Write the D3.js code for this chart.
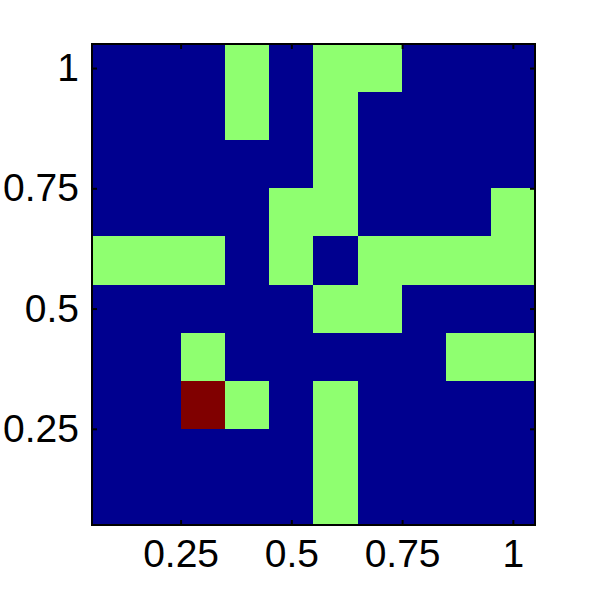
<!DOCTYPE html>
<html>
<head>
<meta charset="utf-8">
<script src="https://cdn.jsdelivr.net/npm/d3@7"></script>
<style>
  body { margin: 0; background: #fff; }
  text { font-family: "Liberation Sans", Arial, sans-serif; }
</style>
</head>
<body>
<div id="chart"></div>
<script>
// cell centres along each axis
var xValues = [0.1, 0.2, 0.3, 0.4, 0.5, 0.6, 0.7, 0.8, 0.9, 1.0]
var yValues = [1.0, 0.9, 0.8, 0.7, 0.6, 0.5, 0.4, 0.3, 0.2, 0.1]

// grid values, one row per y value (top row first): 0 = low, 1 = mid, 2 = high
var gridRows = [
  [0, 0, 0, 1, 0, 1, 1, 0, 0, 0],
  [0, 0, 0, 1, 0, 1, 0, 0, 0, 0],
  [0, 0, 0, 0, 0, 1, 0, 0, 0, 0],
  [0, 0, 0, 0, 1, 1, 0, 0, 0, 1],
  [1, 1, 1, 0, 1, 0, 1, 1, 1, 1],
  [0, 0, 0, 0, 0, 1, 1, 0, 0, 0],
  [0, 0, 1, 0, 0, 0, 0, 0, 1, 1],
  [0, 0, 2, 1, 0, 1, 0, 0, 0, 0],
  [0, 0, 0, 0, 0, 1, 0, 0, 0, 0],
  [0, 0, 0, 0, 0, 1, 0, 0, 0, 0]
]

var tickValues = [0.25, 0.5, 0.75, 1]
var colorLevels = [0, 1, 2]
var colorRange = ["#00008f", "#8fff70", "#800000"]

var width = 591, height = 591
var margin = { top: 44, right: 56, bottom: 66, left: 92 }
var innerW = width - margin.left - margin.right
var innerH = height - margin.top - margin.bottom

var svg = d3.select("#chart").append("svg")
  .attr("width", width)
  .attr("height", height)

var g = svg.append("g")
  .attr("transform", "translate(" + margin.left + "," + margin.top + ")")

var x = d3.scaleLinear().domain([0.05, 1.05]).range([0, innerW])
var y = d3.scaleLinear().domain([0.05, 1.05]).range([innerH, 0])
var color = d3.scaleOrdinal().domain(colorLevels).range(colorRange)

var cells = []
gridRows.forEach(function(row, r) {
  row.forEach(function(v, c) {
    cells.push({ x: xValues[c], y: yValues[r], v: v })
  })
})

// snap cell edges to whole pixels so neighbours meet without seams
g.selectAll("rect.cell")
  .data(cells)
  .enter().append("rect")
    .attr("class", "cell")
    .attr("shape-rendering", "crispEdges")
    .attr("x", function(d) { return Math.round(x(d.x - 0.05)) })
    .attr("y", function(d) { return Math.round(y(d.y + 0.05)) })
    .attr("width", function(d) { return Math.round(x(d.x + 0.05)) - Math.round(x(d.x - 0.05)) })
    .attr("height", function(d) { return Math.round(y(d.y - 0.05)) - Math.round(y(d.y + 0.05)) })
    .attr("fill", function(d) { return color(d.v) })

// axes: ticks pointing inward, labels outside
function styleAxis(sel) {
  sel.select(".domain").remove()
  sel.selectAll(".tick line").attr("stroke", "#000").attr("stroke-width", 2)
  sel.selectAll(".tick text")
    .attr("fill", "#000")
    .style("font-size", "39px")
}

g.append("g")
  .attr("transform", "translate(0," + innerH + ")")
  .call(d3.axisBottom(x).tickValues(tickValues).tickFormat(d3.format("")).tickSizeInner(-5).tickSizeOuter(0).tickPadding(14))
  .call(styleAxis)
  .selectAll(".tick text").attr("dy", "0.71em")

g.append("g")
  .call(d3.axisTop(x).tickValues(tickValues).tickFormat("").tickSizeInner(-5).tickSizeOuter(0))
  .call(styleAxis)

g.append("g")
  .call(d3.axisLeft(y).tickValues(tickValues).tickFormat(d3.format("")).tickSizeInner(-5).tickSizeOuter(0).tickPadding(13))
  .call(styleAxis)

g.append("g")
  .attr("transform", "translate(" + innerW + ",0)")
  .call(d3.axisRight(y).tickValues(tickValues).tickFormat("").tickSizeInner(-5).tickSizeOuter(0))
  .call(styleAxis)

g.append("rect")
  .attr("width", innerW)
  .attr("height", innerH)
  .attr("fill", "none")
  .attr("stroke", "#000")
  .attr("stroke-width", 2)
</script>
</body>
</html>
